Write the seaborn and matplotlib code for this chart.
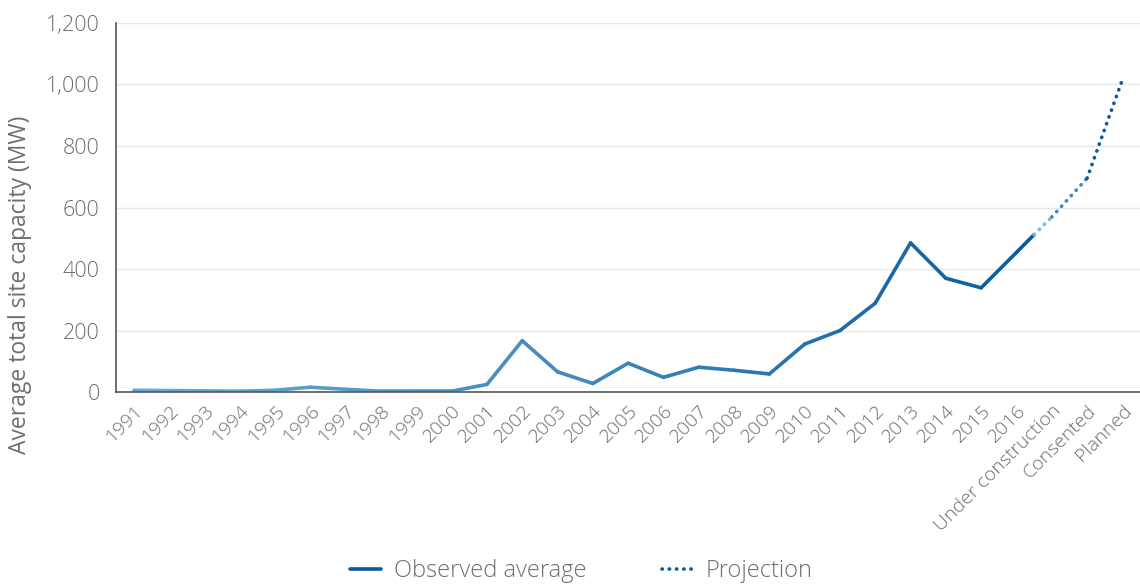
import numpy as np
import pandas as pd
import matplotlib
matplotlib.use('Agg')
import matplotlib.pyplot as plt
import matplotlib.transforms as mtransforms
import seaborn as sns
from matplotlib.lines import Line2D
from matplotlib.colors import LinearSegmentedColormap
from matplotlib.ticker import FuncFormatter

# dati
years = [str(y) for y in range(1991, 2017)]
observed = [6, 5, 4, 3, 6, 16, 9, 3, 3, 3, 25, 167, 66, 28, 94, 48, 81, 71, 59,
            156, 200, 289, 485, 370, 339, 454]
proj_labels = ['Under construction', 'Consented', 'Planned']
junction_value = 512          # punto dove finisce la linea osservata e inizia la proiezione
projection = [569, 695, 1015]
yticks = [0, 200, 400, 600, 800, 1000, 1200]

categories = years + proj_labels
pos = {c: i for i, c in enumerate(categories)}
junction_x = (pos['2016'] + pos['Under construction']) / 2

obs_x = [pos[y] for y in years] + [junction_x]
obs_y = observed + [junction_value]
proj_x = [junction_x] + [pos[c] for c in proj_labels]
proj_y = [junction_value] + projection

sns.set_theme(style='white')
plt.rcParams['font.family'] = ['Open Sans', 'DejaVu Sans']
plt.rcParams['font.weight'] = 'light'
grey = '#6e6e6e'

cmap_obs = LinearSegmentedColormap.from_list('obs', ['#64aad6', '#3d88be', '#0c5a9c'])
cmap_proj = LinearSegmentedColormap.from_list('proj', ['#7ab6dd', '#0c5a9c'])


def segments(xs, ys):
    rows = []
    for i in range(len(xs) - 1):
        rows.append({'seg': i, 'x': xs[i], 'y': ys[i]})
        rows.append({'seg': i, 'x': xs[i + 1], 'y': ys[i + 1]})
    return pd.DataFrame(rows)


fig = plt.figure(figsize=(11.4, 5.87), dpi=100)
ax = fig.add_axes([0.102, 0.332, 0.898, 0.629])

df_obs = segments(obs_x, obs_y)
n = df_obs['seg'].nunique()
pal_obs = [cmap_obs(i / (n - 1)) for i in range(n)]
sns.lineplot(data=df_obs, x='x', y='y', hue='seg', palette=pal_obs, units='seg',
             estimator=None, sort=False, legend=False, lw=2.6, ax=ax,
             solid_capstyle='round')

df_proj = segments(proj_x, proj_y)
m = df_proj['seg'].nunique()
pal_proj = [cmap_proj(i / (m - 1)) for i in range(m)]
sns.lineplot(data=df_proj, x='x', y='y', hue='seg', palette=pal_proj, units='seg',
             estimator=None, sort=False, legend=False, lw=2.6, ax=ax,
             dashes=False)
for ln in ax.lines[n:]:
    ln.set_linestyle((0, (0.1, 1.9)))
    ln.set_dash_capstyle('round')

ax.set_xlim(-0.5, len(categories) - 0.5)
ax.set_ylim(0, 1200)
ax.set_yticks(yticks)
ax.yaxis.set_major_formatter(FuncFormatter(lambda v, p: f'{int(v):,}'))
ax.set_xticks(range(len(categories)))
ax.set_xticklabels(categories, rotation=45, ha='right', va='top', rotation_mode='anchor')
shift = mtransforms.ScaledTranslation(12 / 100, 0, fig.dpi_scale_trans)
for lab in ax.get_xticklabels():
    lab.set_transform(lab.get_transform() + shift)
ax.set_xticks(np.arange(len(categories)) + 0.5, minor=True)
ax.tick_params(axis='x', which='major', length=0, pad=7, labelsize=14, colors=grey)
ax.tick_params(axis='x', which='minor', length=4, width=1, direction='in', color='#444444')
ax.tick_params(axis='y', length=0, pad=12, labelsize=15.5, colors=grey)
ax.grid(axis='y', color='#e8e8e8', lw=1)
ax.set_axisbelow(True)
for s in ['top', 'right']:
    ax.spines[s].set_visible(False)
for s in ['left', 'bottom']:
    ax.spines[s].set_color('#555555')
    ax.spines[s].set_linewidth(1.2)
ax.set_xlabel('')
ax.set_ylabel('Average total site capacity (MW)', fontsize=16.5, color=grey)
ax.yaxis.set_label_coords(-0.082, 0.29)

handles = [Line2D([], [], color='#0c5a9c', lw=2.6),
           Line2D([], [], color='#0c5a9c', lw=2.6, linestyle=(0, (0.1, 1.9)),
                  dash_capstyle='round')]
fig.legend(handles, ['Observed average', 'Projection'], loc='center',
           bbox_to_anchor=(0.51, 0.027), ncol=2, frameon=False, fontsize=17,
           labelcolor=grey, handlelength=1.3, handletextpad=0.55, columnspacing=3.2)

fig.savefig('out.png', dpi=100)
